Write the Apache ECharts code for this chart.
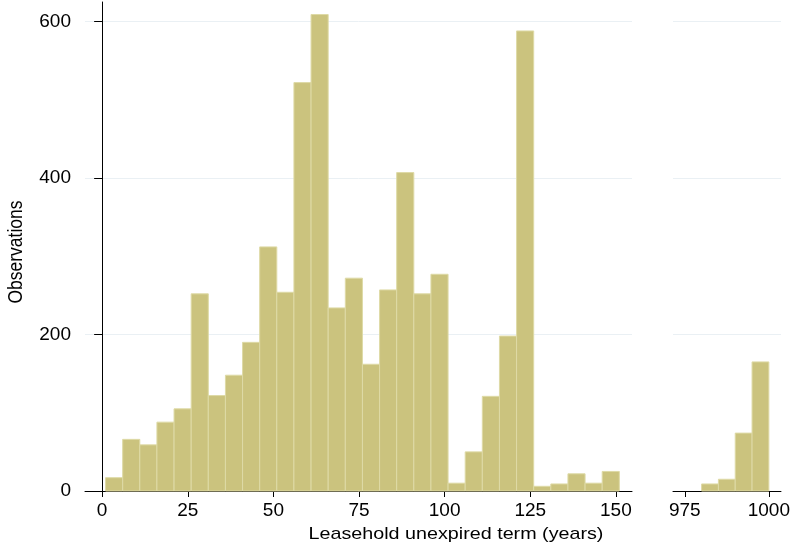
<!DOCTYPE html>
<html>
<head>
<meta charset="utf-8">
<script src="https://cdn.jsdelivr.net/npm/echarts@6/dist/echarts.min.js"></script>
<style>html,body{margin:0;padding:0;background:#fff}#c{width:793px;height:546px}</style>
</head>
<body>
<div id="c"></div>
<script>
// Histogram bins (5-year width)
const binWidth = 5;
const leftBinStarts = [1,6,11,16,21,26,31,36,41,46,51,56,61,66,71,76,81,86,91,96,101,106,111,116,121,126,131,136,141,146];
const leftCounts    = [17,66,59,88,105,252,122,148,190,312,254,522,609,234,272,162,257,407,252,277,10,50,121,198,588,6,9,22,10,25];
const rightBinStarts = [980,985,990,995];
const rightCounts    = [9,15,74,165];
const leftTicks = [0,25,50,75,100,125,150];
const rightTicks = [975,1000];
const yTicks = [0,200,400,600];

const FONT = '"Liberation Sans", Arial, sans-serif';
const FS = 19;
const FILL = '#cbc37e';
const EDGE = '#dedaa6';
const GRIDC = '#eaf0f4';

function mk(starts, counts){ return starts.map((s,i)=>[s, s+binWidth, counts[i]]); }

function renderBar(params, api){
  const p0 = api.coord([api.value(0), 0]);
  const p1 = api.coord([api.value(1), api.value(2)]);
  return {
    type: 'rect',
    shape: {x: p0[0], y: p1[1], width: p1[0]-p0[0], height: p0[1]-p1[1]},
    style: {fill: FILL, stroke: EDGE, lineWidth: 1}
  };
}

const chart = echarts.init(document.getElementById('c'), null, {renderer:'canvas'});
const axisLine = {show:true, lineStyle:{color:'#000', width:1}};
const labelStyle = {color:'#000', fontFamily: FONT, fontSize: FS, formatter: v => String(v)};
chart.setOption({
  animation: false,
  backgroundColor: '#fff',
  grid: [
    {left: 85, width: 547, top: 2, height: 489},
    {left: 673, width: 110, top: 2, height: 489}
  ],
  xAxis: [
    {gridIndex:0, type:'value', min:-5, max:154.7,
     axisLine: axisLine,
     axisTick: {show:true, length:6, customValues: leftTicks, lineStyle:{color:'#000'}},
     axisLabel: Object.assign({customValues: leftTicks, margin: 10}, labelStyle),
     splitLine: {show:false}},
    {gridIndex:1, type:'value', min:971.5, max:1003.6,
     axisLine: axisLine,
     axisTick: {show:true, length:6, customValues: rightTicks, lineStyle:{color:'#000'}},
     axisLabel: Object.assign({customValues: rightTicks, margin: 10}, labelStyle),
     splitLine: {show:false}}
  ],
  yAxis: [
    {gridIndex:0, type:'value', min:0, max:625,
     axisLine: axisLine,
     axisTick: {show:true, length:8, customValues: yTicks, lineStyle:{color:'#000'}},
     axisLabel: Object.assign({customValues: yTicks, margin: 14}, labelStyle),
     splitLine: {show:true, lineStyle:{color:GRIDC, width:1}}},
    {gridIndex:1, type:'value', min:0, max:625,
     axisLine: {show:false},
     axisTick: {show:false, customValues: yTicks},
     axisLabel: {show:false, customValues: yTicks},
     splitLine: {show:true, lineStyle:{color:GRIDC, width:1}}}
  ],
  series: [
    {type:'custom', xAxisIndex:0, yAxisIndex:0, renderItem: renderBar, data: mk(leftBinStarts,leftCounts), encode:{x:[0,1], y:2}, clip:false},
    {type:'custom', xAxisIndex:1, yAxisIndex:1, renderItem: renderBar, data: mk(rightBinStarts,rightCounts), encode:{x:[0,1], y:2}, clip:false}
  ],
  graphic: [
    {type:'text', x: 456, y: 534, scaleX: 1.16, style:{text:'Leasehold unexpired term (years)', fill:'#000', font: '17px ' + FONT, textAlign:'center', textVerticalAlign:'middle'}},
    {type:'text', x: 16, y: 252, rotation: Math.PI/2, scaleY: 1.16, style:{text:'Observations', fill:'#000', font: '17.5px ' + FONT, textAlign:'center', textVerticalAlign:'middle'}}
  ]
});
</script>
</body>
</html>
